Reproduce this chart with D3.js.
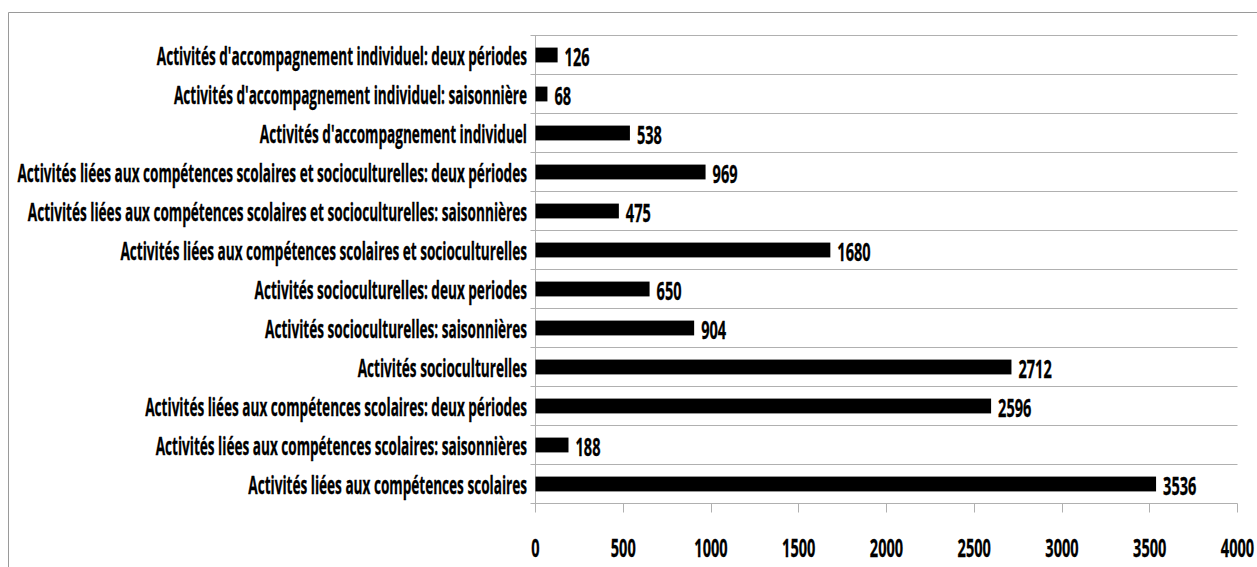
<!DOCTYPE html>
<html><head><meta charset="utf-8">
<script src="https://cdn.jsdelivr.net/npm/d3@7"></script>
<style>
html,body{margin:0;padding:0;background:#fff;}
svg{display:block;}
text{font-family:"Open Sans","Noto Sans",sans-serif;font-weight:bold;fill:#000;}
</style></head>
<body><svg id="c" width="1257" height="567"></svg>
<script>
const categories = [
  "Activités d'accompagnement individuel: deux périodes",
  "Activités d'accompagnement individuel: saisonnière",
  "Activités d'accompagnement individuel",
  "Activités liées aux compétences scolaires et socioculturelles: deux périodes",
  "Activités liées aux compétences scolaires et socioculturelles: saisonnières",
  "Activités liées aux compétences scolaires et socioculturelles",
  "Activités socioculturelles: deux periodes",
  "Activités socioculturelles: saisonnières",
  "Activités socioculturelles",
  "Activités liées aux compétences scolaires: deux périodes",
  "Activités liées aux compétences scolaires: saisonnières",
  "Activités liées aux compétences scolaires"
];
const values = [126, 68, 538, 969, 475, 1680, 650, 904, 2712, 2596, 188, 3536];
const xTicks = [0, 500, 1000, 1500, 2000, 2500, 3000, 3500, 4000];

const svg = d3.select("#c");
const L = 535.5, R = 1237.5, T = 35.5, B = 503.5;
const fs = 24.5;
const gridCol = "#b0b0b0";

// outer frame
svg.append("line").attr("x1", 8.5).attr("x2", 1257).attr("y1", 12.5).attr("y2", 12.5).attr("stroke", "#9a9a9a");
svg.append("line").attr("x1", 8.5).attr("x2", 8.5).attr("y1", 12.5).attr("y2", 567).attr("stroke", "#9a9a9a");

const x = d3.scaleLinear().domain([0, 4000]).range([L, R]);
const y = d3.scaleBand().domain(categories).range([T, B]).paddingInner(0.62).paddingOuter(0.31);
const step = y.step();
const bound = d => y(d) + y.bandwidth() / 2 - step / 2;
const mid = d => y(d) + y.bandwidth() / 2;

// horizontal grid (category boundaries)
const bounds = categories.map(bound).concat([B]);
svg.append("g").selectAll("line").data(bounds).join("line")
  .attr("x1", L - 5).attr("x2", R).attr("y1", d => Math.round(d - 0.5) + 0.5).attr("y2", d => Math.round(d - 0.5) + 0.5)
  .attr("stroke", gridCol);

// vertical axis line
svg.append("line").attr("x1", L).attr("x2", L).attr("y1", T).attr("y2", B).attr("stroke", gridCol);

// x ticks
svg.append("g").selectAll("line").data(xTicks).join("line")
  .attr("x1", d => Math.round(x(d) - 0.5) + 0.5).attr("x2", d => Math.round(x(d) - 0.5) + 0.5)
  .attr("y1", B).attr("y2", B + 9).attr("stroke", gridCol);

// bars
svg.append("g").selectAll("rect").data(values).join("rect")
  .attr("x", L).attr("y", (d, i) => y(categories[i]))
  .attr("width", d => x(d) - L).attr("height", y.bandwidth())
  .attr("fill", "#000");

// horizontal compression factor (narrow bold look)
const probe = svg.append("text").attr("font-size", fs).text(categories[3]);
const w = probe.node().getComputedTextLength();
probe.remove();
const sx = 510 / w;
const probe2 = svg.append("text").attr("font-size", fs).text("126");
const w2 = probe2.node().getComputedTextLength();
probe2.remove();
const sxn = 25 / w2;

// category labels
svg.append("g").selectAll("text").data(categories).join("text")
  .attr("font-size", fs).attr("text-anchor", "end")
  .attr("stroke", "#000").attr("stroke-width", 0.3)
  .attr("transform", d => `translate(527,${mid(d) + 10}) scale(${sx},1)`)
  .text(d => d);

// value labels
svg.append("g").selectAll("text").data(values).join("text")
  .attr("font-size", fs).attr("text-anchor", "start")
  .attr("stroke", "#000").attr("stroke-width", 0.3)
  .attr("transform", (d, i) => `translate(${x(d) + 7},${mid(categories[i]) + 10.5}) scale(${sxn},1)`)
  .text(d => d);

// x tick labels
svg.append("g").selectAll("text").data(xTicks).join("text")
  .attr("font-size", fs).attr("text-anchor", "middle")
  .attr("stroke", "#000").attr("stroke-width", 0.3)
  .attr("transform", d => `translate(${x(d)},557) scale(${sxn},1)`)
  .text(d => d);
</script></body></html>
